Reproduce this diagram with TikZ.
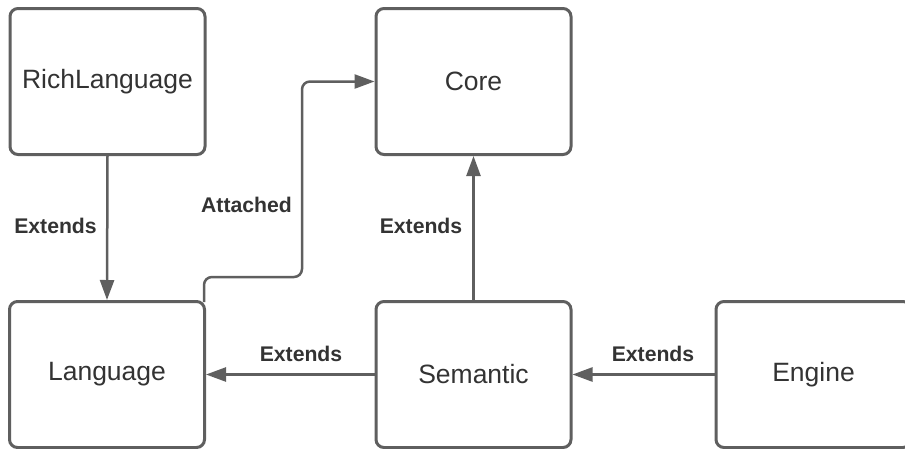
\documentclass[tikz,border=0pt]{standalone}
\usepackage{fontspec}
\setmainfont{Liberation Sans}
\usetikzlibrary{arrows.meta}
\definecolor{edge}{HTML}{5F5F5F}
\definecolor{ink}{HTML}{333333}
\begin{document}
\begin{tikzpicture}[x=1pt,y=-1pt,
  block/.style={draw=edge,line width=3pt,rounded corners=8pt,fill=white,
    minimum width=195pt,minimum height=146pt,inner sep=0pt,
    text=ink,font=\fontsize{26.5}{30}\selectfont},
  link/.style={draw=edge,line width=2.5pt,
    -{Triangle[length=20pt,width=14pt]}},
  tag/.style={text=ink,font=\fontsize{21.2}{24}\selectfont\bfseries,inner sep=0pt}]
\useasboundingbox (0,0) rectangle (905,448);
% boxes
\node[block] (rich) at (107.5,81.5) {RichLanguage};
\node[block] (core) at (473.5,81.5) {Core};
\node[block] (lang) at (107,374.5) {Language};
\node[block] (sem) at (473.5,374.5) {Semantic};
\node[block] (eng) at (813.5,374.5) {Engine};
% connectors
\draw[link] (rich.south) -- (lang.north);
\coordinate (att) at (204,302);
\draw[link,rounded corners=8pt] (att) |- (302,277) |- (core.west);
\draw[link] (sem.north) -- (core.south);
\draw[link] (sem.west) -- (lang.east);
\draw[link] (eng.west) -- (sem.east);
% labels
\node[tag] (l1) at (55.5,226) {Extends};
\node[tag] (l2) at (246.5,205) {Attached};
\node[tag] (l3) at (421,226) {Extends};
\node[tag] (l4) at (301,354) {Extends};
\node[tag] (l5) at (653,354) {Extends};
\end{tikzpicture}
\end{document}
